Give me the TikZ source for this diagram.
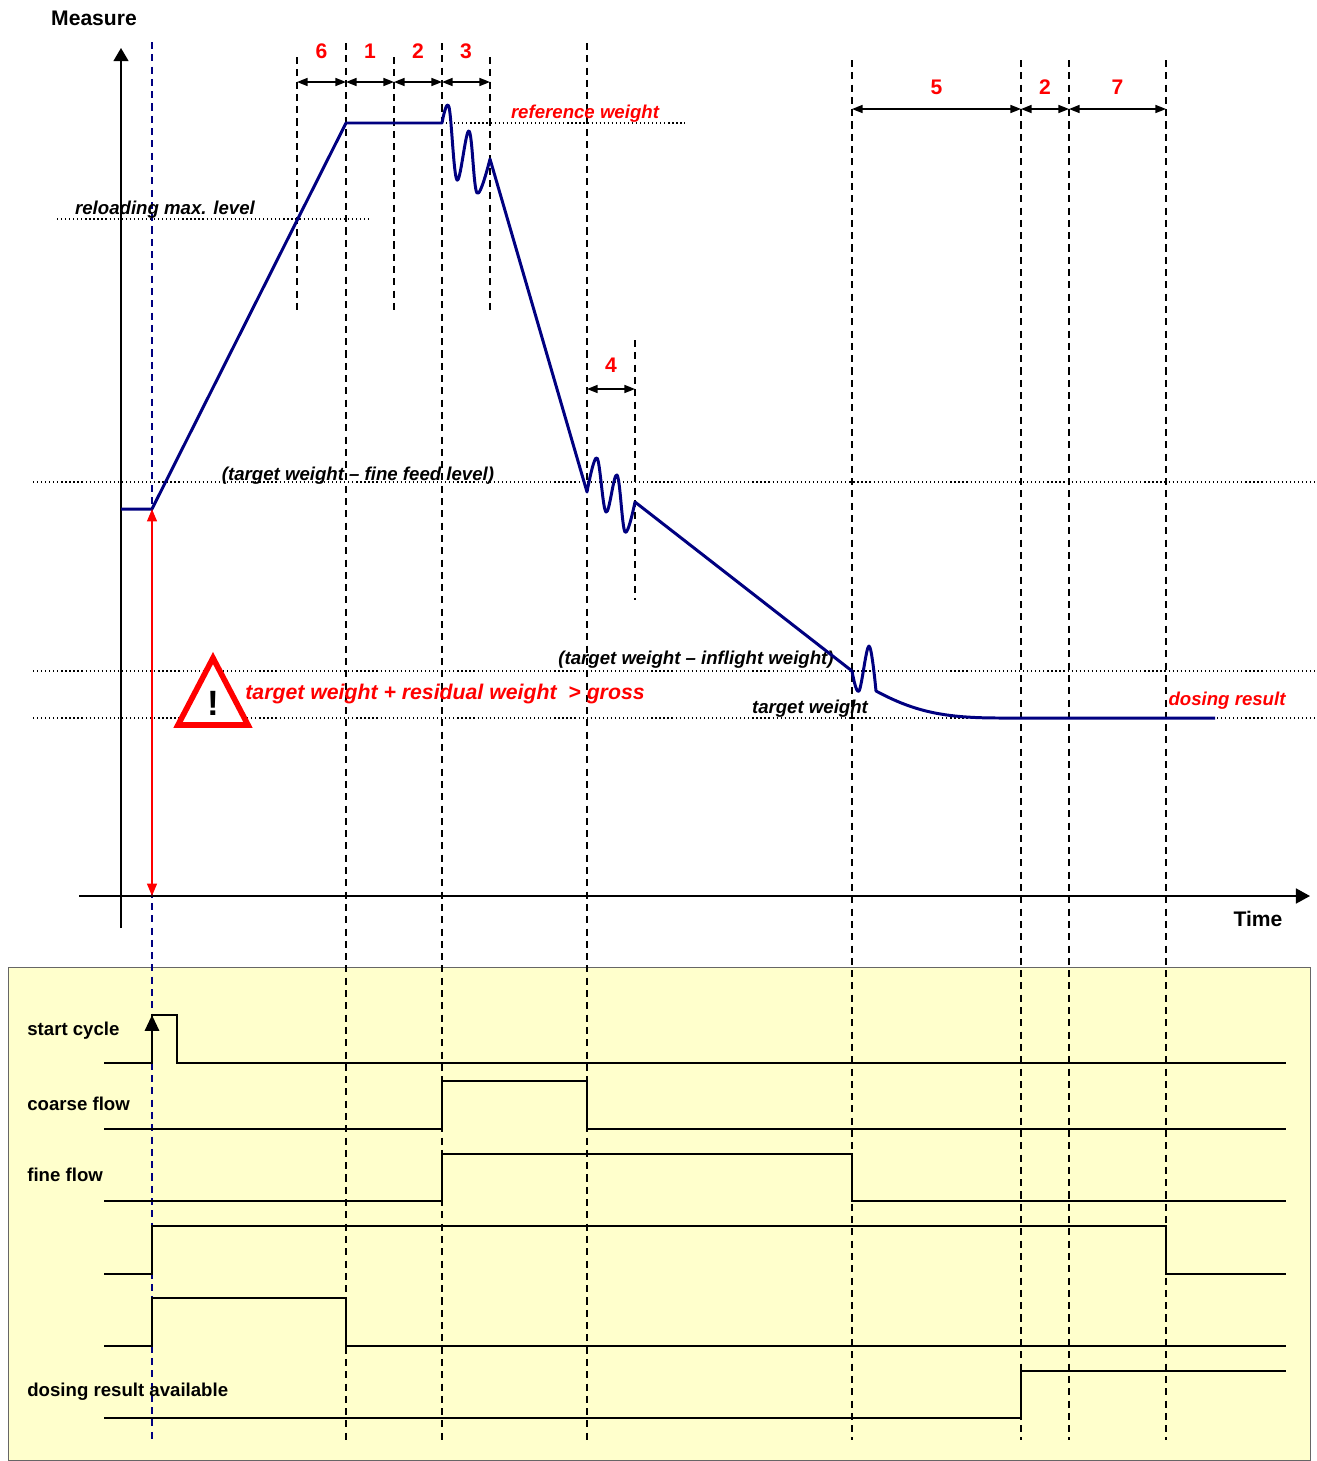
\documentclass[tikz,border=0pt]{standalone}
\usepackage{fontspec}
\setmainfont{Liberation Sans}
\usetikzlibrary{arrows.meta}
\definecolor{navyline}{RGB}{0,0,128}
\definecolor{panel}{RGB}{255,255,204}

\begin{document}
\begin{tikzpicture}[x=0.02cm, y=-0.02cm]
    \tikzset{marker/.style={dash pattern=on 4pt off 3pt, line width=0.85pt},
      level/.style={dash pattern=on 0.7pt off 1.6pt, line width=0.8pt},
      dim/.style={{Triangle[length=6pt,width=4.5pt]}-{Triangle[length=6pt,width=4.5pt]}, line width=0.9pt},
      num/.style={text=red, font=\fontsize{12}{14}\selectfont\bfseries},
      lbl/.style={font=\fontsize{10.6}{12}\selectfont\bfseries\itshape, inner sep=0pt},
      axislbl/.style={font=\fontsize{12}{14}\selectfont\bfseries},
      siglbl/.style={font=\fontsize{10.6}{12}\selectfont\bfseries, anchor=west, inner sep=0pt},
      signal/.style={line width=1.5pt},
      weight/.style={navyline, line width=1.7pt, line join=round}}

    \useasboundingbox (0,0) rectangle (1316,1461);
    \draw[fill=panel, draw=black!60] (8,967) rectangle (1310,1460);

    % time markers
    \foreach \x/\ya/\yb in {297/57/315, 346/43/1440, 394/57/315, 442/43/1440, 490/57/315,
        587/43/1440, 635/340/600, 852/60/1440, 1021/60/1440, 1069/60/1440, 1166/60/1440}
      \draw[marker] (\x,\ya) -- (\x,\yb);
    \draw[marker, navyline] (152,42) -- (152,1440);

    \foreach \a/\b/\y/\ny/\n/\name in {297/346/82/51/6/p6, 346/394/82/51/1/p1, 394/442/82/51/2/p2,
        442/490/82/51/3/p3, 587/635/389/365/4/p4, 852/1021/109/87/5/p5, 1021/1069/109/87/2/p2b,
        1069/1166/109/87/7/p7} {
      \draw[dim] (\a,\y) -- (\b,\y);
      \node[num] (\name) at ({(\a+\b)/2},\ny) {\n};
    }

    % levels
    \draw[level] (442,123) -- (685,123);
    \draw[level] (57,219) -- (371,219);
    \draw[level] (33,482) -- (1316,482);
    \draw[level] (33,671) -- (1316,671);
    \draw[level] (33,718) -- (1316,718);

    \node[lbl, text=red] (refw) at (585,114) {reference weight};
    \node[lbl] (reload) at (165,210) {reloading max. level};
    \node[lbl] (finefeed) at (358,476) {(target weight – fine feed level)};
    \node[lbl] (inflight) at (696,660) {(target weight – inflight weight)};
    \node[lbl] (targetw) at (810,709) {target weight};
    \node[lbl, text=red] (result) at (1227,701) {dosing result};

    % axes
    \draw[line width=1.1pt, -{Triangle[length=7.5pt,width=8.5pt]}] (121,928) -- (121,48);
    \draw[line width=1.1pt, -{Triangle[length=8pt,width=8.5pt]}] (79,896) -- (1310,896);
    \node[axislbl] (measure) at (94,18) {Measure};
    \node[axislbl] (time) at (1258,919) {Time};

    % weight curve
    \draw[weight] (121,509) -- (152,509) -- (346,123) -- (442,123)
      -- plot[smooth, tension=0.6] coordinates {(442,123) (449,107) (457,180) (469,131) (477,193) (490,159)}
      -- (587,492)
      -- plot[smooth, tension=0.6] coordinates {(587,492) (597,458) (606,512) (617,475) (625,532) (635,502)}
      -- (852,671)
      -- plot[smooth, tension=0.6] coordinates {(852,671) (859,691) (869,646) (876,691)}
      .. controls (915,712) and (945,718) .. (1000,718) -- (1215,718);

    % residual weight warning
    \coordinate (start) at (152,509);
    \coordinate (zero) at (152,896);
    \draw[red, line width=1.1pt, {Triangle[length=7pt,width=5.5pt]}-{Triangle[length=7pt,width=5.5pt]}] (start) -- (zero);
    \draw[red, line width=3.2pt, fill=white, line join=miter] (213,658) -- (248,725) -- (178,725) -- cycle;
    \node[font=\fontsize{20}{22}\selectfont\bfseries] (warn) at (213,703) {!};
    \node[anchor=west, inner sep=0pt, text=red, font=\fontsize{12.1}{14}\selectfont\bfseries\itshape] (condition)
      at (245,694) {target weight + residual weight~~> gross};

    % signals
    \node[siglbl] (startcycle) at (27,1031) {start cycle};
    \node[siglbl] (coarse) at (27,1104) {coarse flow};
    \node[siglbl] (fine) at (27,1175) {fine flow};
    \node[siglbl] (available) at (27,1392) {dosing result available};

    \draw[signal] (104,1063) -- (152,1063) -- (152,1015) -- (177,1015) -- (177,1063) -- (1286,1063);
    \draw[signal, -{Triangle[length=9pt,width=8pt]}] (152,1063) -- (152,1015);
    \draw[signal] (104,1129) -- (442,1129) -- (442,1081) -- (587,1081) -- (587,1129) -- (1286,1129);
    \draw[signal] (104,1201) -- (442,1201) -- (442,1154) -- (852,1154) -- (852,1201) -- (1286,1201);
    \draw[signal] (104,1274) -- (152,1274) -- (152,1226) -- (1166,1226) -- (1166,1274) -- (1286,1274);
    \draw[signal] (104,1346) -- (152,1346) -- (152,1298) -- (346,1298) -- (346,1346) -- (1286,1346);
    \draw[signal] (104,1418) -- (1021,1418) -- (1021,1371) -- (1286,1371);
  \end{tikzpicture}
\end{document}
